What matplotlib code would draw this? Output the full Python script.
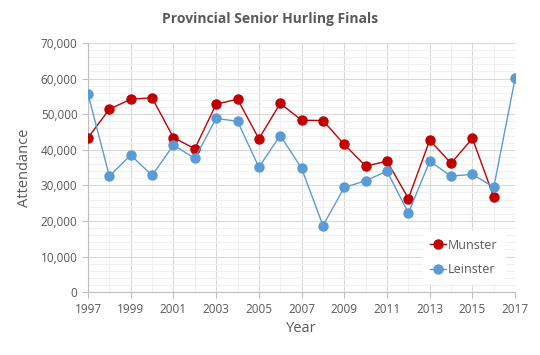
import matplotlib
matplotlib.use("Agg")
import matplotlib.pyplot as plt
from matplotlib.ticker import MultipleLocator, FixedLocator, FuncFormatter

munster_years = list(range(1997, 2017))
munster = [43400, 51400, 54200, 54600, 43400, 40300, 52800, 54200, 43100, 53000,
           48300, 48200, 41500, 35400, 36800, 26300, 42700, 36200, 43200, 26700]
leinster_years = list(range(1997, 2018))
leinster = [55600, 32600, 38500, 32800, 41300, 37600, 48800, 48000, 35100, 44000,
            34800, 18700, 29400, 31300, 34000, 22200, 36800, 32600, 33100, 29500, 60100]
x_ticks = list(range(1997, 2018, 2))

plt.rcParams['font.family'] = ['Open Sans', 'DejaVu Sans']
fig = plt.figure(figsize=(5.4, 3.55), dpi=100)
ax = fig.add_axes([0.163, 0.177, 0.791, 0.702])

red = '#C00000'
blue = '#5B9BD5'
ax.plot(munster_years, munster, color=red, lw=1, marker='o', ms=6.5, label='Munster', zorder=3)
ax.plot(leinster_years, leinster, color=blue, lw=1, marker='o', ms=6.5, label='Leinster', zorder=3)

ax.set_xlim(1997, 2017)
ax.set_ylim(0, 70000)
ax.xaxis.set_major_locator(FixedLocator(x_ticks))
ax.xaxis.set_minor_locator(MultipleLocator(1))
ax.yaxis.set_major_locator(MultipleLocator(10000))
ax.yaxis.set_minor_locator(MultipleLocator(2000))
ax.yaxis.set_major_formatter(FuncFormatter(lambda v, p: f"{int(v):,}"))

ax.grid(which='major', color='#d9d9d9', lw=0.8)
ax.grid(which='minor', color='#f0f0f0', lw=0.8)
ax.set_axisbelow(True)
for s in ['top', 'right']:
    ax.spines[s].set_visible(False)
for s in ['left', 'bottom']:
    ax.spines[s].set_color('#bfbfbf')
ax.tick_params(which='major', colors='#bfbfbf', labelcolor='#595959', labelsize=8.5, length=4)
ax.tick_params(which='minor', length=0)

ax.set_xlabel('Year', fontsize=10.5, color='#595959', labelpad=4)
ax.set_ylabel('Attendance', fontsize=10.5, color='#595959', labelpad=6)
fig.suptitle('Provincial Senior Hurling Finals', x=0.5, y=0.965, fontsize=10,
             fontweight='bold', color='#595959')

leg = ax.legend(loc='lower right', bbox_to_anchor=(0.99, 0.01), frameon=True,
                fancybox=False, edgecolor='white', framealpha=1, fontsize=9,
                handlelength=1.3, handletextpad=0.1, labelspacing=0.9, borderpad=0.6)
for t in leg.get_texts():
    t.set_color('#595959')

fig.savefig('out.png', dpi=100)
